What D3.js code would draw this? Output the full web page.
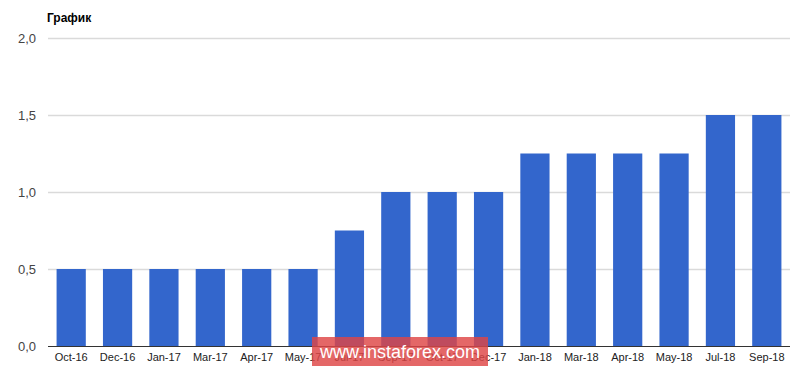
<!DOCTYPE html>
<html>
<head>
<meta charset="utf-8">
<script src="https://cdnjs.cloudflare.com/ajax/libs/d3/7.8.5/d3.min.js"></script>
<style>
  body { margin: 0; background: #fff; }
  svg { display: block; font-family: Arial, "Liberation Sans", sans-serif; }
</style>
</head>
<body>
<svg id="chart" width="800" height="368"></svg>
<script>
var months = ["Oct-16", "Dec-16", "Jan-17", "Mar-17", "Apr-17", "May-17", "Jul-17", "Sep-17",
              "Oct-17", "Dec-17", "Jan-18", "Mar-18", "Apr-18", "May-18", "Jul-18", "Sep-18"];
var rates = [0.5, 0.5, 0.5, 0.5, 0.5, 0.5, 0.75, 1.0, 1.0, 1.0, 1.25, 1.25, 1.25, 1.25, 1.5, 1.5];
var yTicks = [0, 0.5, 1.0, 1.5, 2.0];
var title = "График";
var watermark = "www.instaforex.com";

var svg = d3.select("#chart");
var margin = { left: 48, right: 10, top: 38, bottom: 22 };
var W = 800, H = 368;

var x = d3.scaleBand()
    .domain(months)
    .range([margin.left, W - margin.right])
    .paddingInner(0.37)
    .paddingOuter(0.185);

var y = d3.scaleLinear()
    .domain([0, 2])
    .range([H - margin.bottom, margin.top]);

var fmt = function (d) { return d3.format(".1f")(d).replace(".", ","); };

// grid lines
svg.append("g")
    .selectAll("line")
    .data(yTicks.filter(function (d) { return d > 0; }))
    .enter().append("line")
    .attr("x1", margin.left)
    .attr("x2", W - margin.right)
    .attr("y1", function (d) { return Math.round(y(d)) + 0.5; })
    .attr("y2", function (d) { return Math.round(y(d)) + 0.5; })
    .attr("stroke", "#dadada")
    .attr("stroke-width", 1.5);

// y labels
svg.append("g")
    .selectAll("text")
    .data(yTicks)
    .enter().append("text")
    .attr("x", 36)
    .attr("y", function (d) { return y(d) + 4.5; })
    .attr("text-anchor", "end")
    .attr("fill", "#444")
    .style("font-size", "13px")
    .text(fmt);

// bars
svg.append("g")
    .selectAll("rect")
    .data(rates)
    .enter().append("rect")
    .attr("x", function (d, i) { return x(months[i]); })
    .attr("width", x.bandwidth())
    .attr("y", function (d) { return y(d); })
    .attr("height", function (d) { return y(0) - y(d); })
    .attr("fill", "#3366cc");

// baseline
svg.append("line")
    .attr("x1", margin.left)
    .attr("x2", W - margin.right)
    .attr("y1", Math.round(y(0)) + 0.5)
    .attr("y2", Math.round(y(0)) + 0.5)
    .attr("stroke", "#333")
    .attr("stroke-width", 1);

// x labels
var xAxis = d3.axisBottom(x).tickSize(0).tickPadding(7);
var gx = svg.append("g")
    .attr("transform", "translate(0," + y(0) + ")")
    .call(xAxis);
gx.select(".domain").remove();
gx.selectAll("text")
    .attr("fill", "#222")
    .style("font-size", "11px")
    .style("font-family", "Arial, 'Liberation Sans', sans-serif");

// title
svg.append("text")
    .attr("x", 47)
    .attr("y", 22)
    .attr("fill", "#000")
    .style("font-size", "12px")
    .style("font-weight", "bold")
    .text(title);

// watermark
var wm = svg.append("g");
wm.append("rect")
    .attr("x", 312)
    .attr("y", 337)
    .attr("width", 176)
    .attr("height", 29)
    .attr("fill", "rgba(222, 70, 70, 0.82)");
wm.append("text")
    .attr("x", 400)
    .attr("y", 358)
    .attr("text-anchor", "middle")
    .attr("fill", "#fff")
    .style("font-size", "18px")
    .text(watermark);
</script>
</body>
</html>
